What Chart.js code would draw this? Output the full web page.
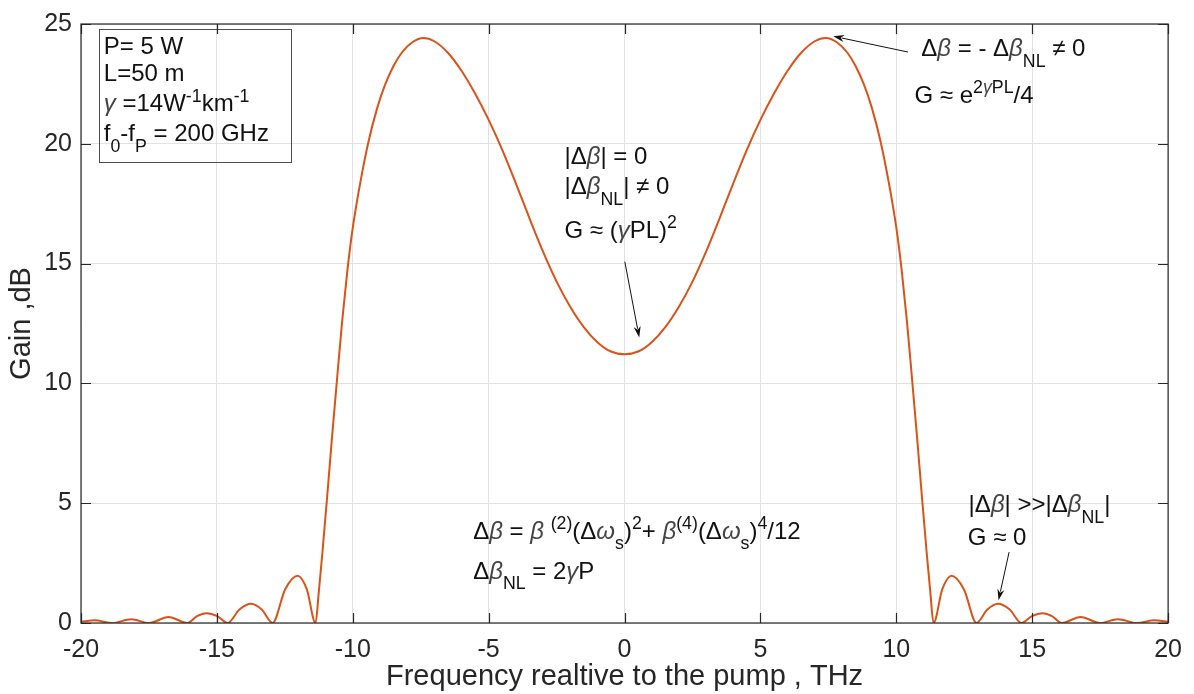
<!DOCTYPE html>
<html>
<head>
<meta charset="utf-8">
<script src="https://cdn.jsdelivr.net/npm/chart.js@4.4.1/dist/chart.umd.min.js"></script>
<style>
  html, body { margin: 0; padding: 0; background: #fff; }
  #wrap { width: 1194px; height: 694px; }
</style>
</head>
<body>
<div id="wrap"><canvas id="gain-chart" width="1194" height="694"></canvas></div>
<script>
// Gain spectrum (frequency in THz, gain in dB)
const freqTHz = [
  -20, -19.5, -18.85, -18.15, -17.5, -16.78, -16.08, -15.73, -15.38, -14.99, -14.6,
  -14.17, -13.74, -13.35, -12.95, -12.49, -12.03, -11.69, -11.37,
  -11.25, -11.12, -10.94, -10.76, -10.57, -10.39, -10.2, -10.0, -9.72, -9.41, -9.1,
  -8.8, -8.5, -8.2, -7.8, -7.4, -7.0, -6.5, -6.0, -5.5, -5.0, -4.5, -4.0, -3.5, -3.0,
  -2.5, -2.0, -1.5, -1.0, -0.5, 0,
  0.5, 1.0, 1.5, 2.0, 2.5, 3.0, 3.5, 4.0, 4.5, 5.0, 5.5, 6.0, 6.5, 7.0, 7.4,
  7.8, 8.2, 8.5, 8.8, 9.1, 9.41, 9.72, 10.0, 10.2, 10.39, 10.57, 10.76, 10.94, 11.12, 11.25,
  11.37, 11.69, 12.03, 12.49, 12.95, 13.35, 13.74, 14.17, 14.6, 14.99, 15.38,
  15.73, 16.08, 16.78, 17.5, 18.15, 18.85, 19.5, 20
];
const gainDb = [
  0.05, 0.11, 0, 0.16, 0, 0.25, 0, 0.29, 0.41, 0.29, 0,
  0.56, 0.8, 0.56, 0, 1.4, 1.97, 1.4, 0,
  1.3, 2.9, 5.3, 7.8, 10.3, 12.6, 14.7, 16.5, 18.4, 20.15, 21.5,
  22.5, 23.25, 23.8, 24.25, 24.42, 24.28, 23.8, 23.05, 22.1, 21.0, 19.75, 18.35, 16.9, 15.5,
  14.25, 13.2, 12.35, 11.72, 11.33, 11.22,
  11.33, 11.72, 12.35, 13.2, 14.25, 15.5, 16.9, 18.35, 19.75, 21.0, 22.1, 23.05, 23.8, 24.28, 24.42,
  24.25, 23.8, 23.25, 22.5, 21.5, 20.15, 18.4, 16.5, 14.7, 12.6, 10.3, 7.8, 5.3, 2.9, 1.3,
  0, 1.4, 1.97, 1.4, 0, 0.56, 0.8, 0.56, 0, 0.29, 0.41,
  0.29, 0, 0.25, 0, 0.16, 0, 0.11, 0.05
];
const xTicks = [-20, -15, -10, -5, 0, 5, 10, 15, 20];
const yTicks = [0, 5, 10, 15, 20, 25];

const FONT = '"Liberation Sans", Arial, Helvetica, sans-serif';
const axisColor = '#262626';
const gridColor = '#e2e2e2';

// Text notes: [x THz, baseline dB, parts]; part kinds: i = italic, sub, sup, supi
const notes = [
  [-19.16, 23.75, [['P= 5 W']]],
  [-19.16, 22.61, [['L=50 m']]],
  [-19.16, 21.36, [['γ', 'i'], [' =14W'], ['-1', 'sup'], ['km'], ['-1', 'sup']]],
  [-19.16, 20.11, [['f'], ['0', 'sub'], ['-f'], ['P', 'sub'], [' = 200 GHz']]],
  [-2.21, 19.14, [['|Δ'], ['β', 'i'], ['| = 0']]],
  [-2.21, 17.89, [['|Δ'], ['β', 'i'], ['NL', 'sub'], ['| ≠ 0']]],
  [-2.21, 16.08, [['G ≈ ('], ['γ', 'i'], ['PL)'], ['2', 'sup']]],
  [10.92, 23.65, [['Δ'], ['β', 'i'], [' = - Δ'], ['β', 'i'], ['NL', 'sub'], [' ≠ 0']]],
  [10.67, 21.71, [['G ≈ e'], ['2', 'sup'], ['γ', 'supi'], ['PL', 'sup'], ['/4']]],
  [-5.57, 3.52, [['Δ'], ['β', 'i'], [' = '], ['β', 'i'], [' '], ['(2)', 'sup'], ['(Δ'], ['ω', 'i'], ['s', 'sub'], [')'], ['2', 'sup'],
                 ['+ '], ['β', 'i'], ['(4)', 'sup'], ['(Δ'], ['ω', 'i'], ['s', 'sub'], [')'], ['4', 'sup'], ['/12']]],
  [-5.57, 1.85, [['Δ'], ['β', 'i'], ['NL', 'sub'], [' = 2'], ['γ', 'i'], ['P']]],
  [12.66, 4.63, [['|Δ'], ['β', 'i'], ['| >>|Δ'], ['β', 'i'], ['NL', 'sub'], ['|']]],
  [12.63, 3.24, [['G ≈ 0']]]
];
// Arrows: [fromX, fromY, toX, toY] in data units
const arrows = [
  [0.01, 15.08, 0.54, 11.92],
  [10.43, 23.83, 7.68, 24.49],
  [14.15, 2.96, 13.76, 0.95]
];
// Parameter box corners [x1, y1, x2, y2]
const paramBox = [-19.34, 24.81, -12.27, 19.22];

function drawRich(ctx, x, y, parts, size) {
  let cx = x;
  parts.forEach(([text, kind]) => {
    let fs = size, dy = 0;
    const italic = kind === 'i' || kind === 'supi';
    if (kind === 'sub') { fs = size * 0.74; dy = size * 0.44; }
    if (kind === 'sup' || kind === 'supi') { fs = size * 0.74; dy = -size * 0.4; }
    ctx.font = (italic ? 'italic ' : '') + fs + 'px ' + FONT;
    ctx.fillStyle = italic ? '#444' : '#111';
    ctx.fillText(text, cx, y + dy);
    cx += ctx.measureText(text).width;
  });
}

function drawArrow(ctx, x1, y1, x2, y2) {
  const ang = Math.atan2(y2 - y1, x2 - x1);
  const len = 11, half = 3.5;
  ctx.strokeStyle = '#111';
  ctx.fillStyle = '#111';
  ctx.lineWidth = 1;
  ctx.beginPath();
  ctx.moveTo(x1, y1);
  ctx.lineTo(x2 - Math.cos(ang) * len * 0.8, y2 - Math.sin(ang) * len * 0.8);
  ctx.stroke();
  ctx.beginPath();
  ctx.moveTo(x2, y2);
  ctx.lineTo(x2 - Math.cos(ang) * len - Math.sin(ang) * half, y2 - Math.sin(ang) * len + Math.cos(ang) * half);
  ctx.lineTo(x2 - Math.cos(ang) * len * 0.7, y2 - Math.sin(ang) * len * 0.7);
  ctx.lineTo(x2 - Math.cos(ang) * len + Math.sin(ang) * half, y2 - Math.sin(ang) * len - Math.cos(ang) * half);
  ctx.closePath();
  ctx.fill();
}

// Notes, arrows and the parameter box on top of the curve
const notesPlugin = {
  id: 'notes',
  afterDatasetsDraw(chart) {
    const ctx = chart.ctx;
    const xs = chart.scales.x, ys = chart.scales.y;
    ctx.save();
    ctx.textBaseline = 'alphabetic';
    ctx.textAlign = 'left';
    notes.forEach(([x, y, parts]) => {
      drawRich(ctx, xs.getPixelForValue(x), ys.getPixelForValue(y), parts, 24);
    });
    arrows.forEach(([x1, y1, x2, y2]) => {
      drawArrow(ctx, xs.getPixelForValue(x1), ys.getPixelForValue(y1),
                xs.getPixelForValue(x2), ys.getPixelForValue(y2));
    });
    const bx1 = Math.round(xs.getPixelForValue(paramBox[0])) + 0.5;
    const by1 = Math.round(ys.getPixelForValue(paramBox[1])) + 0.5;
    const bx2 = Math.round(xs.getPixelForValue(paramBox[2])) + 0.5;
    const by2 = Math.round(ys.getPixelForValue(paramBox[3])) + 0.5;
    ctx.strokeStyle = '#4d4d4d';
    ctx.lineWidth = 1;
    ctx.strokeRect(bx1, by1, bx2 - bx1, by2 - by1);
    ctx.restore();
  },
  afterDraw(chart) {
    // MATLAB-style box with inward ticks on all four sides
    const ctx = chart.ctx;
    const a = chart.chartArea;
    const xs = chart.scales.x, ys = chart.scales.y;
    const tl = 10;
    ctx.save();
    ctx.strokeStyle = axisColor;
    ctx.lineWidth = 1.2;
    ctx.strokeRect(a.left, a.top, a.right - a.left, a.bottom - a.top);
    ctx.beginPath();
    xTicks.forEach(v => {
      const px = Math.round(xs.getPixelForValue(v)) + 0.5;
      ctx.moveTo(px, a.bottom); ctx.lineTo(px, a.bottom - tl);
      ctx.moveTo(px, a.top); ctx.lineTo(px, a.top + tl);
    });
    yTicks.forEach(v => {
      const py = Math.round(ys.getPixelForValue(v)) + 0.5;
      ctx.moveTo(a.left, py); ctx.lineTo(a.left + tl, py);
      ctx.moveTo(a.right, py); ctx.lineTo(a.right - tl, py);
    });
    ctx.stroke();
    ctx.restore();
  }
};

const ctx = document.getElementById('gain-chart').getContext('2d');
new Chart(ctx, {
  type: 'line',
  data: {
    datasets: [{
      label: 'Gain',
      data: freqTHz.map((f, i) => ({ x: f, y: gainDb[i] })),
      borderColor: '#D95319',
      borderWidth: 2,
      pointRadius: 0,
      fill: false,
      cubicInterpolationMode: 'monotone'
    }]
  },
  options: {
    responsive: false,
    animation: false,
    layout: { padding: { top: 23, right: 21, left: 0, bottom: 0 } },
    plugins: {
      legend: { display: false },
      tooltip: { enabled: false }
    },
    scales: {
      x: {
        type: 'linear',
        min: -20,
        max: 20,
        afterBuildTicks(scale) { scale.ticks = xTicks.map(v => ({ value: v })); },
        afterFit(scale) { scale.height = 71; },
        grid: { color: gridColor, drawTicks: false },
        border: { display: false },
        ticks: {
          color: axisColor,
          padding: 12,
          maxRotation: 0,
          font: { family: FONT, size: 25 }
        },
        title: {
          display: true,
          text: 'Frequency realtive to the pump , THz',
          color: axisColor,
          padding: { top: 0, bottom: 0 },
          font: { family: FONT, size: 29 }
        }
      },
      y: {
        type: 'linear',
        min: 0,
        max: 25,
        afterBuildTicks(scale) { scale.ticks = yTicks.map(v => ({ value: v })); },
        afterFit(scale) { scale.width = 81; },
        grid: { color: gridColor, drawTicks: false },
        border: { display: false },
        ticks: {
          color: axisColor,
          padding: 9,
          font: { family: FONT, size: 25 }
        },
        title: {
          display: true,
          text: 'Gain ,dB',
          color: axisColor,
          padding: { top: 5, bottom: 0 },
          font: { family: FONT, size: 29 }
        }
      }
    }
  },
  plugins: [notesPlugin]
});
</script>
</body>
</html>
